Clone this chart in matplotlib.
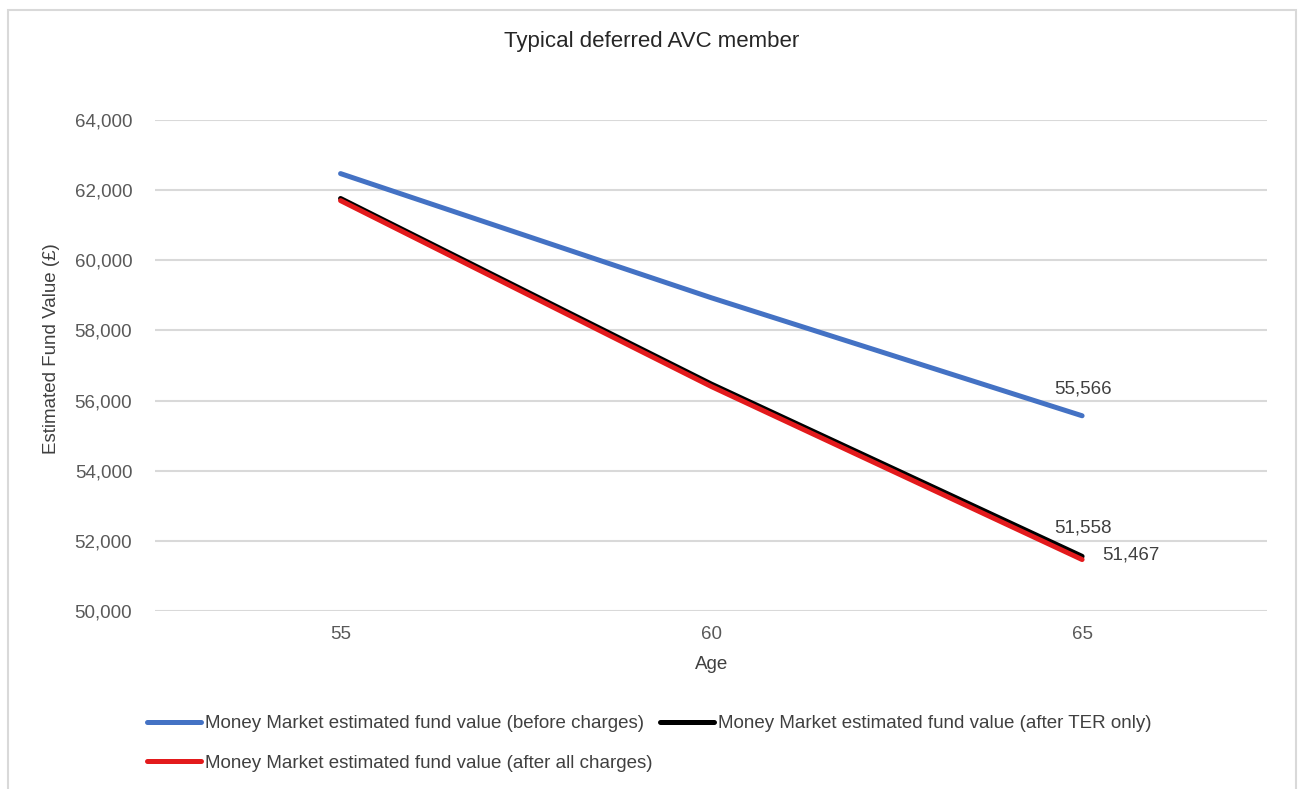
import matplotlib
matplotlib.use("Agg")
import matplotlib.pyplot as plt
from matplotlib.patches import Rectangle

plt.rcParams['font.family'] = ['Liberation Sans', 'DejaVu Sans']

ages = ["55", "60", "65"]
before_charges = [62470, 58930, 55566]
after_ter = [61760, 56470, 51558]
after_all = [61700, 56400, 51467]

series_names = [
    "Money Market estimated fund value (before charges)",
    "Money Market estimated fund value (after TER only)",
    "Money Market estimated fund value (after all charges)",
]
colors = ["#4472c4", "#000000", "#e31a1c"]

FS = 13.5

fig = plt.figure(figsize=(13.04, 7.89), dpi=100)
ax = fig.add_axes([0.119, 0.2256, 0.853, 0.6224])

x = list(range(len(ages)))
l1, = ax.plot(x, before_charges, color=colors[0], lw=3.6, solid_capstyle='round', zorder=3)
l2, = ax.plot(x, after_ter, color=colors[1], lw=3.6, solid_capstyle='round', zorder=3)
l3, = ax.plot(x, after_all, color=colors[2], lw=3.6, solid_capstyle='round', zorder=4)

ax.set_xlim(-0.5, 2.5)
ax.set_ylim(50000, 64000)
ax.set_yticks(range(50000, 64001, 2000))
ax.set_yticklabels([f"{v:,}" for v in range(50000, 64001, 2000)])
ax.set_xticks(x)
ax.set_xticklabels(ages)
ax.tick_params(axis='both', length=0, labelsize=FS, labelcolor='#595959')
ax.tick_params(axis='x', pad=11)
ax.tick_params(axis='y', pad=16.5)
ax.grid(axis='y', color='#d9d9d9', lw=1.5)
ax.set_axisbelow(True)
for s in ax.spines.values():
    s.set_visible(False)

ax.set_xlabel("Age", fontsize=FS, color='#404040', labelpad=9)
ax.set_ylabel("Estimated Fund Value (£)", fontsize=FS, color='#404040')
ax.yaxis.set_label_coords(-0.086, 0.535)

# data labels at final point
ax.annotate(f"{before_charges[-1]:,}", (x[-1], before_charges[-1]), xytext=(1, 27),
            textcoords='offset pixels', ha='center', va='center', fontsize=FS, color='#404040')
ax.annotate(f"{after_ter[-1]:,}", (x[-1], after_ter[-1]), xytext=(1, 28),
            textcoords='offset pixels', ha='center', va='center', fontsize=FS, color='#404040')
ax.annotate(f"{after_all[-1]:,}", (x[-1], after_all[-1]), xytext=(20, 5),
            textcoords='offset pixels', ha='left', va='center', fontsize=FS, color='#404040')

fig.text(0.5, 0.947, "Typical deferred AVC member", ha='center', va='center',
         fontsize=16, color='#262626')

leg = fig.legend([l1, l3, l2], [series_names[0], series_names[2], series_names[1]],
                 ncol=2, loc='upper left', bbox_to_anchor=(0.1127, 0.0935), frameon=False,
                 fontsize=FS, handlelength=2.9, handletextpad=0.2, columnspacing=0.37,
                 labelspacing=1.2, borderaxespad=0, borderpad=0)
for t in leg.get_texts():
    t.set_color('#404040')

fig.patches.append(Rectangle((0.006, -0.01), 0.988, 0.997, transform=fig.transFigure,
                             fill=False, edgecolor='#d9d9d9', lw=1.5))

fig.savefig("out.png", dpi=100)
